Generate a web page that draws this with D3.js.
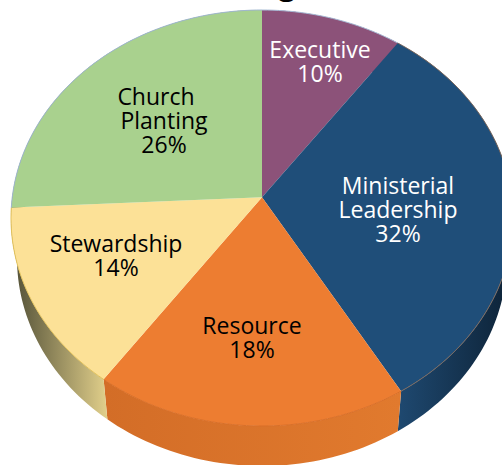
<!DOCTYPE html>
<html>
<head>
<meta charset="utf-8">
<script src="https://cdnjs.cloudflare.com/ajax/libs/d3/7.8.5/d3.min.js"></script>
<style>
  html, body { margin: 0; padding: 0; background: #fff; overflow: hidden; }
  text { font-family: "Open Sans", "Noto Sans", sans-serif; }
</style>
</head>
<body>
<svg id="chart" width="502" height="465" style="display:block"></svg>
<script>
const categories = ['Executive', 'Ministerial Leadership', 'Resource', 'Stewardship', 'Church Planting'];
// printed labels are rounded; slice sizes read from the rim
const shares = [10, 31.5, 18.4, 14.3, 25.8];
const faceColors = ['#8c5279', '#1f4e79', '#ed7d31', '#fce197', '#a9d18e'];
const edgeColors = ['#a9bcd6', '#7d6a5f', '#d96f28', '#e3c25c', '#9fb6cf'];
const labelColors = ['#fff', '#fff', '#000', '#000', '#000'];
// side wall gradient stops, left to right
const sideColors = [
  ['#8c5279', '#8c5279'],
  ['#1f4a72', '#0d2236'],
  ['#d36d27', '#e17a2e'],
  ['#4f4d35', '#e2d08b'],
  ['#5f7a4c', '#8fae76']
];
const labelLines = [['Executive', '10%'], ['Ministerial', 'Leadership', '32%'], ['Resource', '18%'], ['Stewardship', '14%'], ['Church', 'Planting', '26%']];
const labelSpots = [[320, 50], [398, 186], [252, 326], [116, 244], [164, 97]];
const lineNudge = { Church: -8 };

const svg = d3.select('#chart');
const defs = svg.append('defs');

// tilted disc: top face and the same disc dropped and slightly narrower
const faceDisc = { cx: 262, cy: 218, rx: 251, ry: 208 };
const baseDisc = { cx: 262, cy: 258, rx: 245, ry: 208 };
const tilt = 0.1; // perspective pull of the apex towards the back

function project(e, angle) {
  const u = Math.sin(angle), v = -Math.cos(angle);
  const d = 1 - tilt * v;
  return [e.cx + e.rx * u * Math.sqrt(1 - tilt * tilt) / d, e.cy + e.ry * (v - tilt) / d];
}
function rim(e, a0, a1) {
  const n = Math.max(2, Math.ceil((a1 - a0) * 40));
  return d3.range(n + 1).map(i => project(e, a0 + (a1 - a0) * i / n));
}

const line = d3.line();
const slices = d3.pie().sort(null)(shares);

// Title is cut off by the top of the picture, only a descender shows
svg.append('text')
  .attr('x', 287).attr('y', -5)
  .attr('text-anchor', 'middle')
  .attr('font-size', 30)
  .attr('font-weight', 700)
  .text('g');

// Side walls
slices.forEach((s, i) => {
  const id = 'side' + i;
  const upper = rim(faceDisc, s.startAngle, s.endAngle);
  const lower = rim(baseDisc, s.startAngle, s.endAngle).reverse();
  const xs = upper.concat(lower).map(p => p[0]);
  const grad = defs.append('linearGradient').attr('id', id)
    .attr('gradientUnits', 'userSpaceOnUse')
    .attr('x1', d3.min(xs)).attr('x2', d3.max(xs)).attr('y1', 0).attr('y2', 0);
  grad.append('stop').attr('offset', 0).attr('stop-color', sideColors[i][0]);
  grad.append('stop').attr('offset', 1).attr('stop-color', sideColors[i][1]);
  svg.append('path')
    .attr('d', line(upper.concat(lower)) + 'Z')
    .attr('fill', `url(#${id})`);
});

// Top face
slices.forEach((s, i) => {
  const apex = [faceDisc.cx, faceDisc.cy - faceDisc.ry * tilt];
  const pts = [apex].concat(rim(faceDisc, s.startAngle, s.endAngle));
  svg.append('path')
    .attr('d', line(pts) + 'Z')
    .attr('fill', faceColors[i]);
  svg.append('path')
    .attr('d', line(rim(faceDisc, s.startAngle, s.endAngle)))
    .attr('fill', 'none')
    .attr('stroke', edgeColors[i])
    .attr('stroke-width', 1);
});

// Labels
slices.forEach((s, i) => {
  const t = svg.append('text')
    .attr('text-anchor', 'middle')
    .attr('font-size', 23)
    .attr('fill', labelColors[i]);
  labelLines[i].forEach((l, j) => {
    t.append('tspan')
      .attr('x', labelSpots[i][0] + (lineNudge[l] || 0))
      .attr('y', labelSpots[i][1] + j * 24)
      .attr('dy', '0.35em')
      .text(l);
  });
});
</script>
</body>
</html>
